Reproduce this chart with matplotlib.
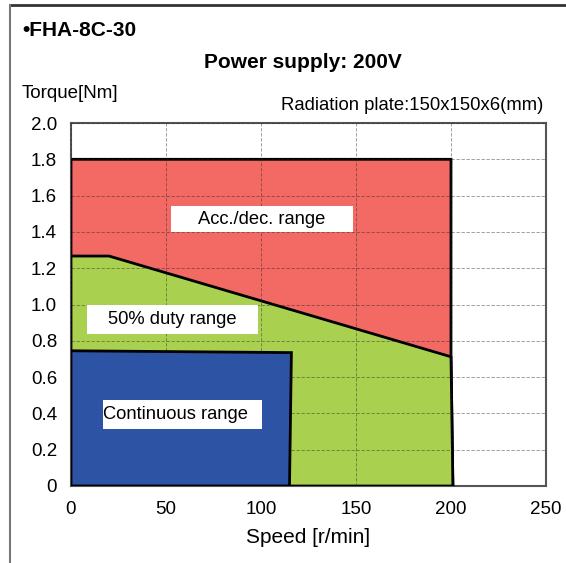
import matplotlib.pyplot as plt
from matplotlib.lines import Line2D
from matplotlib.patches import Rectangle

plt.rcParams['font.family'] = ['Liberation Sans', 'DejaVu Sans']

# region outlines (speed r/min, torque Nm)
acc_speed = [0, 0, 200, 200, 201]
acc_torque = [0, 1.80, 1.80, 0.712, 0]
duty_speed = [0, 0, 20, 200, 201]
duty_torque = [0, 1.267, 1.267, 0.712, 0]
cont_speed = [0, 0, 116, 115]
cont_torque = [0, 0.745, 0.735, 0]

x_ticks = [0, 50, 100, 150, 200, 250]
y_ticks = [0, 0.2, 0.4, 0.6, 0.8, 1.0, 1.2, 1.4, 1.6, 1.8, 2.0]
y_labels = ['0', '0.2', '0.4', '0.6', '0.8', '1.0', '1.2', '1.4', '1.6', '1.8', '2.0']

fig = plt.figure(figsize=(5.66, 5.63), dpi=100)
ax = fig.add_axes([71/566, 1-486/563, 475/566, 363/563])

ax.fill(acc_speed, acc_torque, facecolor='#F26A63', edgecolor='black', lw=2, zorder=1)
ax.fill(duty_speed, duty_torque, facecolor='#AAD050', edgecolor='black', lw=2, zorder=2)
ax.fill(cont_speed, cont_torque, facecolor='#2D54A4', edgecolor='black', lw=2, zorder=3)

ax.set_xlim(0, 250)
ax.set_ylim(0, 2.0)
ax.set_xticks(x_ticks)
ax.set_yticks(y_ticks)
ax.set_yticklabels(y_labels)
ax.tick_params(length=0, labelsize=13.5)
ax.tick_params(axis='x', pad=11)
ax.tick_params(axis='y', pad=10)
ax.grid(True, color='#222222', ls=(0, (4, 2)), lw=0.6, alpha=0.5, zorder=4)
ax.set_axisbelow(False)
for s in ax.spines.values():
    s.set_color('#555555')
    s.set_linewidth(1.5)
    s.set_zorder(0.5)

# white label boxes
labels = [
    ('Acc./dec. range', 52.6, 1.400, 95.8, 0.143, 100.5, 1.47, 'center'),
    ('50% duty range', 8.3, 0.839, 90.3, 0.158, 53.2, 0.918, 'center'),
    ('Continuous range', 16.7, 0.314, 83.8, 0.160, 17.0, 0.395, 'left'),
]
for txt, bx, by, bw, bh, tx, ty, ha in labels:
    ax.add_patch(Rectangle((bx, by), bw, bh, facecolor='white', edgecolor='none', zorder=6))
    ax.text(tx, ty, txt, fontsize=13.2, ha=ha, va='center', zorder=7)

ax.set_xlabel('Speed [r/min]', fontsize=15, labelpad=7)

fig.text(22/566, 1-30/563, '•FHA-8C-30', fontsize=15, fontweight='bold', va='center')
fig.text(303/566, 1-62/563, 'Power supply: 200V', fontsize=15, fontweight='bold', ha='center', va='center')
fig.text(22/566, 1-93/563, 'Torque[Nm]', fontsize=13.5, va='center')
fig.text(543/566, 1-105/563, 'Radiation plate:150x150x6(mm)', fontsize=13.3, ha='right', va='center')

# outer frame (top and left edges only)
fig.add_artist(Line2D([9.5/566, 1], [1-4.5/563, 1-4.5/563], color='#333333', lw=2))
fig.add_artist(Line2D([9.5/566, 9.5/566], [0, 1-4.5/563], color='#777777', lw=1.5))

fig.savefig('out.png', dpi=100)
